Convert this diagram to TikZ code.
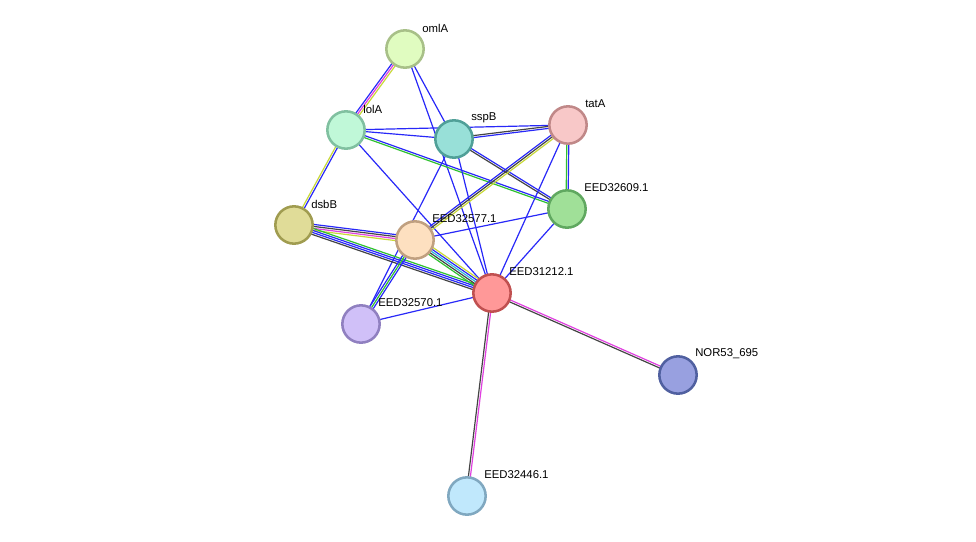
\documentclass[tikz,border=0pt]{standalone}
\usepackage{fontspec}
\setmainfont{Liberation Sans}
\usetikzlibrary{calc}
\pgfdeclarelayer{bg}\pgfsetlayers{bg,main}
\definecolor{eb}{HTML}{2828F8}
\definecolor{em}{HTML}{E040E0}
\definecolor{ey}{HTML}{C8D838}
\definecolor{eg}{HTML}{30C030}
\definecolor{ek}{HTML}{444444}
\definecolor{ec}{HTML}{30B8D8}
\newcommand\ed[4]{%
 \foreach \c [count=\i] in {#4}{%
  \pgfmathsetmacro\o{(\i-(#3+1)/2)*1.5}%
  \draw[\c, line width=0.9pt] ($(#1.center)!\o pt!90:(#2.center)$) -- ($(#2.center)!\o pt!-90:(#1.center)$);
 }}
\begin{document}
\begin{tikzpicture}[x=0.75pt,y=-0.75pt,
 nd/.style 2 args={circle,minimum size=28pt,inner sep=0pt,line width=1.9pt,fill=#1,draw=#2},
 lb/.style={anchor=west,inner sep=0pt,font=\fontsize{8.5}{10}\selectfont}]
\useasboundingbox (0,0) rectangle (976,542);
\def\N#1#2#3#4#5#6{\definecolor{f#1}{HTML}{#4}\definecolor{d#1}{HTML}{#5}\node[nd={f#1}{d#1}] (#1) at (#2,#3) {}; \node[lb] (#1-l) at (#2+17,#3-21) {#6};}
\N{oml}{405}{49}{E0FCC0}{A8C088}{omlA}
\N{lol}{346}{130}{C0F8D8}{80C0A0}{lolA}
\N{ssp}{454}{139}{98E0D8}{50A098}{sspB}
\N{tat}{568}{125}{F8C8C8}{C08888}{tatA}
\N{e609}{567}{209}{A0E098}{60A860}{EED32609.1}
\N{dsb}{294}{225}{E0DC98}{A09C50}{dsbB}
\N{e577}{415}{240}{FDE0C0}{C0A080}{EED32577.1}
\N{e212}{492}{293}{FF9898}{C05050}{EED31212.1}
\N{e570}{361}{324}{D0C0F8}{9080C0}{EED32570.1}
\N{nor}{678}{375}{98A0E0}{5060A0}{NOR53\_695}
\N{e446}{467}{496}{C0E8FC}{80A8C0}{EED32446.1}
\begin{pgfonlayer}{bg}
\ed{oml}{lol}{3}{eb,em,ey}
\ed{oml}{ssp}{1}{eb}
\ed{oml}{e212}{1}{eb}
\ed{lol}{ssp}{1}{eb}
\ed{lol}{tat}{1}{eb}
\ed{lol}{e609}{2}{eg,eb}
\ed{lol}{e212}{1}{eb}
\ed{lol}{dsb}{2}{ey,eb}
\ed{ssp}{tat}{2}{eb,ek}
\ed{ssp}{e609}{2}{ek,eb}
\ed{ssp}{e570}{1}{eb}
\ed{ssp}{e212}{1}{eb}
\ed{tat}{e577}{3}{eb,ek,ey}
\ed{tat}{e609}{2}{eg,eb}
\ed{tat}{e212}{1}{eb}
\ed{e609}{e577}{1}{eb}
\ed{e609}{e212}{1}{eb}
\ed{dsb}{e577}{4}{ey,em,ek,eb}
\ed{dsb}{e212}{4}{ek,eb,eb,eg}
\ed{e577}{e212}{5}{eg,ek,ec,eb,ey}
\ed{e577}{e570}{3}{eb,eg,eb}
\ed{e570}{e212}{1}{eb}
\ed{e212}{nor}{2}{ek,em}
\ed{e212}{e446}{2}{ek,em}
\end{pgfonlayer}
\end{tikzpicture}
\end{document}
